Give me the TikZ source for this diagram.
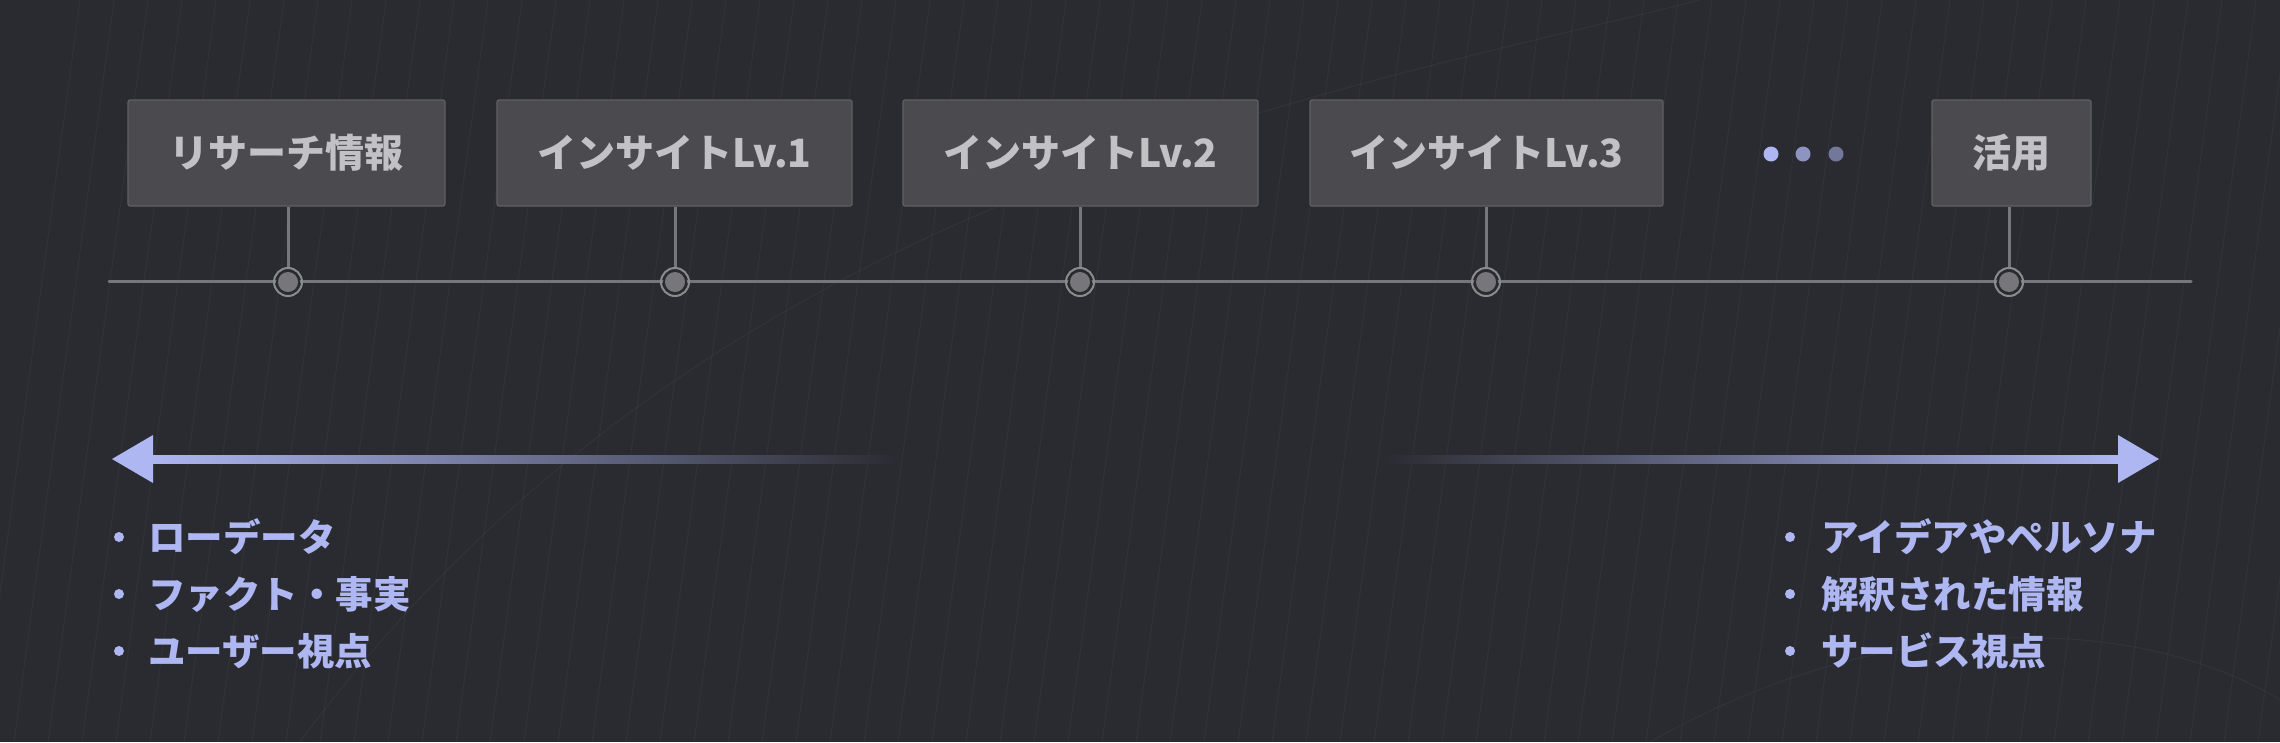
\documentclass[tikz,border=0pt]{standalone}
\usepackage{fontspec}
\setmainfont{Noto Sans CJK JP}
\definecolor{bg}{HTML}{2A2B31}
\definecolor{boxfill}{HTML}{4A4A4F}
\definecolor{boxedge}{HTML}{606064}
\definecolor{boxtext}{HTML}{C2C2C5}
\definecolor{tl}{HTML}{77777B}
\definecolor{accent}{HTML}{AEB7F2}
\begin{document}
\begin{tikzpicture}[x=1pt,y=-1pt,
  stage/.style={draw=boxedge,line width=1.2pt,fill=boxfill,rounded corners=2pt,minimum height=106pt,inner sep=0pt,text=boxtext,font=\fontsize{39}{44}\selectfont\bfseries},
  stem/.style={draw=tl,line width=3pt},
  pin/.style={circle,draw=tl!85!white,line width=2pt,minimum size=28pt,inner sep=0pt},
  item/.style={anchor=west,text=accent,font=\fontsize{37.5}{42}\selectfont\bfseries,inner sep=0pt},
  dotb/.style={circle,inner sep=0pt,minimum size=15pt}]
\fill[bg] (0,0) rectangle (2280,742);
\useasboundingbox (0,0) rectangle (2280,742);
% faint background lines
\foreach \i in {0,...,70}{\draw[white,opacity=0.035,line width=1pt] ({\i*34-20},742) -- ({\i*34+80},0);}
\draw[white,opacity=0.04,line width=1pt] (300,742) .. controls (700,200) and (1300,100) .. (1700,0);
\draw[white,opacity=0.04,line width=1pt] (1650,742) .. controls (1900,600) and (2150,620) .. (2280,700);
% timeline
\coordinate (tlL) at (109,281);
\coordinate (tlR) at (2191,281);
\draw[tl,line width=3pt,line cap=round] (tlL) -- (tlR);
% stages
\node[stage,minimum width=317pt] (s1) at (286.5,153) {リサーチ情報};
\node[stage,minimum width=355pt] (s2) at (674.5,153) {インサイトLv.1};
\node[stage,minimum width=355pt] (s3) at (1080.5,153) {インサイトLv.2};
\node[stage,minimum width=353pt] (s4) at (1486.5,153) {インサイトLv.3};
\node[stage,minimum width=159pt] (s5) at (2011.5,153) {活用};
\foreach \k/\x in {1/288,2/675,3/1080,4/1486,5/2009}{
  \node[pin] (p\k) at (\x,282) {};
  \fill[bg] (p\k.center) circle (12pt);
  \fill[tl] (p\k.center) circle (10pt);
  \draw[stem] (s\k.south -| p\k) -- (p\k.north);}
% dots
\node[dotb,fill=accent] (d1) at (1771,154) {};
\node[dotb,fill=accent!75!bg] (d2) at (1803,154) {};
\node[dotb,fill=accent!55!bg] (d3) at (1836,154) {};
% left arrow
\shade[left color=accent,right color=bg] (150,455) rectangle (901,463);
\coordinate (la) at (112,459);
\fill[accent] (la) -- (153,435) -- (153,483) -- cycle;
% right arrow
\shade[left color=bg,right color=accent] (1381,455) rectangle (2120,463);
\coordinate (ra) at (2159,459);
\fill[accent] (ra) -- (2118,435) -- (2118,483) -- cycle;
% lists
\foreach \t [count=\n] in {ローデータ,ファクト・事実,ユーザー視点}{
  \node[item] (l\n) at (148,{537+(\n-1)*57}) {\t};
  \fill[accent] (119,{537+(\n-1)*57}) circle (5pt);}
\foreach \t [count=\n] in {アイデアやペルソナ,解釈された情報,サービス視点}{
  \node[item] (r\n) at (1821,{537+(\n-1)*57}) {\t};
  \fill[accent] (1790,{537+(\n-1)*57}) circle (5pt);}
\end{tikzpicture}
\end{document}
